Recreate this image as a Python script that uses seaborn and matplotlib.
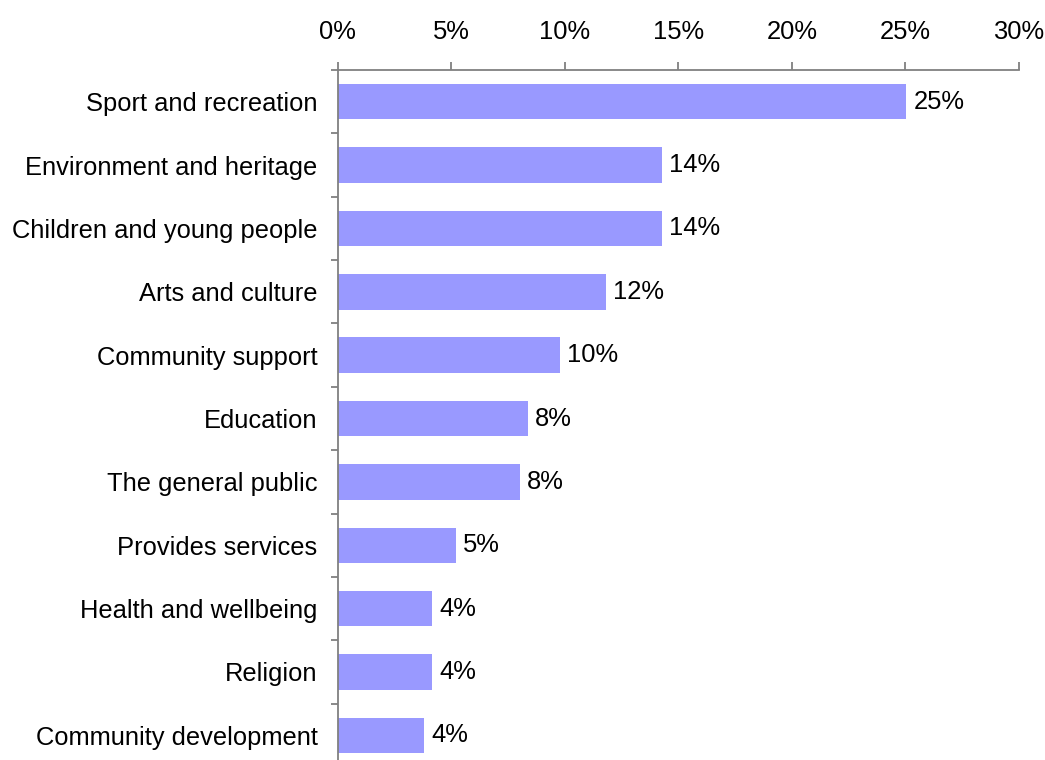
import matplotlib
matplotlib.use("Agg")
import matplotlib.pyplot as plt
import seaborn as sns
import pandas as pd
from matplotlib.ticker import MultipleLocator, FuncFormatter, FixedLocator

categories = [
    "Sport and recreation",
    "Environment and heritage",
    "Children and young people",
    "Arts and culture",
    "Community support",
    "Education",
    "The general public",
    "Provides services",
    "Health and wellbeing",
    "Religion",
    "Community development",
]
values = [25.05, 14.28, 14.28, 11.82, 9.79, 8.38, 8.03, 5.2, 4.16, 4.16, 3.81]

df = pd.DataFrame({"category": categories, "value": values})

sns.set_theme(style="white")
plt.rcParams["font.family"] = ["Liberation Sans", "DejaVu Sans"]

fig = plt.figure(figsize=(10.45, 7.6), dpi=100)
ax = fig.add_axes([0.323, -0.0092, 0.652, 0.917])

sns.barplot(data=df, y="category", x="value", orient="h", color="#9999FF",
            saturation=1, width=0.56, linewidth=0, edgecolor="none", ax=ax)

ax.set_xlim(0, 30)
ax.set_ylim(len(categories) - 0.5, -0.5)
ax.xaxis.set_major_locator(MultipleLocator(5))
ax.xaxis.set_major_formatter(FuncFormatter(lambda v, p: f"{v:.0f}%"))
ax.xaxis.tick_top()
ax.xaxis.set_label_position("top")
ax.set_xlabel("")
ax.set_ylabel("")

for side in ["right", "bottom"]:
    ax.spines[side].set_visible(False)
for side in ["top", "left"]:
    ax.spines[side].set_visible(True)
    ax.spines[side].set_color("#808080")
    ax.spines[side].set_linewidth(1.3)

ax.tick_params(axis="x", which="major", top=True, bottom=False, direction="out",
               length=5.8, width=1.3, color="#808080", pad=13,
               labelsize=18.4, labelcolor="black")
ax.tick_params(axis="y", which="major", left=False, length=0, pad=14.5,
               labelsize=18.4, labelcolor="black")
ax.yaxis.set_minor_locator(FixedLocator([i - 0.5 for i in range(len(categories) + 1)]))
ax.tick_params(axis="y", which="minor", left=True, direction="out",
               length=5, width=1.3, color="#808080")

for cont in ax.containers:
    ax.bar_label(cont, labels=[f"{v:.0f}%" for v in values], padding=5,
                 fontsize=18.4, color="black")

fig.savefig("out.png", dpi=100, facecolor="white")
